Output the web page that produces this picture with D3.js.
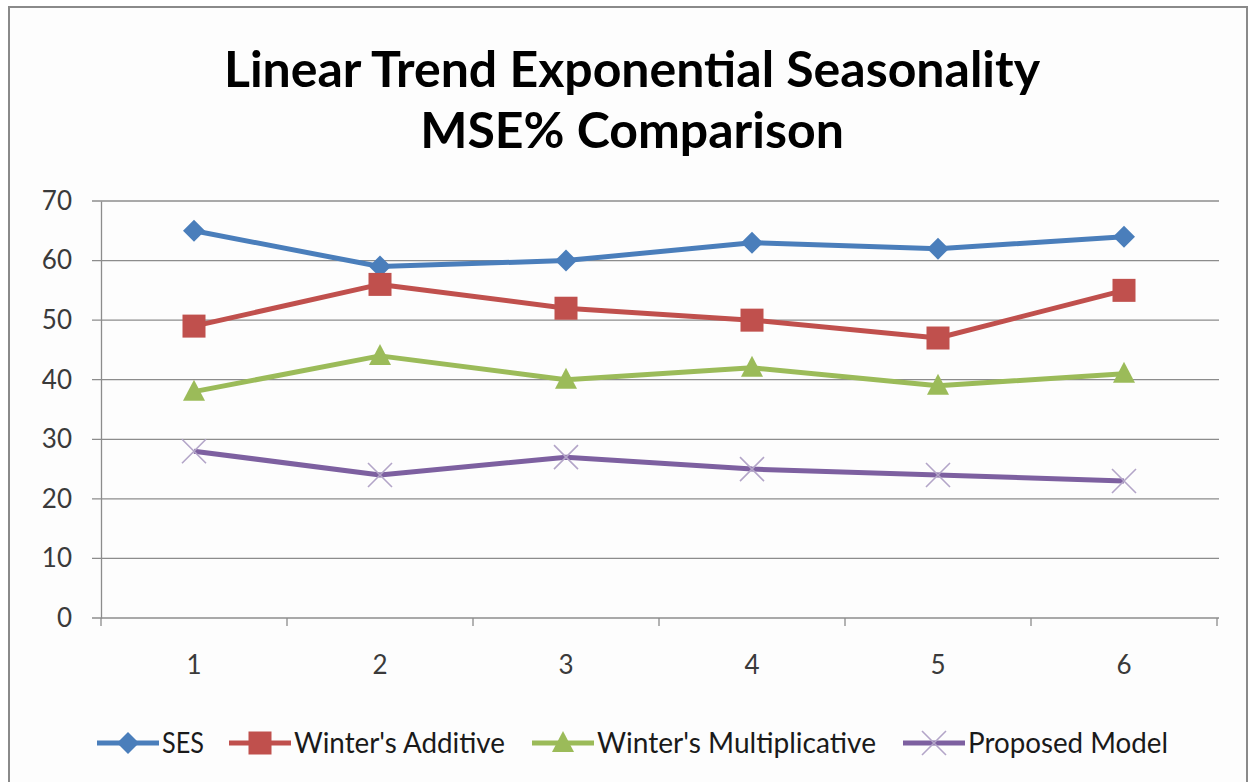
<!DOCTYPE html>
<html>
<head>
<meta charset="utf-8">
<script src="https://cdn.jsdelivr.net/npm/d3@7"></script>
<style>
  body { margin: 0; background: #fff; }
  svg { display: block; }
</style>
</head>
<body>
<div id="chart"></div>
<script>
var categories = ["1", "2", "3", "4", "5", "6"];
var yTicks = [0, 10, 20, 30, 40, 50, 60, 70];
var sesValues = [65, 59, 60, 63, 62, 64];
var additiveValues = [49, 56, 52, 50, 47, 55];
var multiplicativeValues = [38, 44, 40, 42, 39, 41];
var proposedValues = [28, 24, 27, 25, 24, 23];
var seriesNames = ["SES", "Winter's Additive", "Winter's Multiplicative", "Proposed Model"];
var titleLines = ["Linear Trend Exponential Seasonality", "MSE% Comparison"];

var width = 1251, height = 782;
var font = "Lato, 'Open Sans', sans-serif";

var svg = d3.select("#chart").append("svg")
  .attr("width", width)
  .attr("height", height);

// chart frame
svg.append("rect")
  .attr("x", 9).attr("y", 7)
  .attr("width", 1238).attr("height", 790)
  .attr("fill", "#fdfdfd")
  .attr("stroke", "#8a8a8a")
  .attr("stroke-width", 2);

// title
svg.append("g").selectAll("text")
  .data(titleLines)
  .enter().append("text")
  .attr("x", 632)
  .attr("y", function(d, i) { return 87 + i * 61; })
  .attr("text-anchor", "middle")
  .attr("font-family", font)
  .attr("font-weight", "bold")
  .attr("font-size", 50)
  .attr("fill", "#000")
  .text(function(d) { return d; });

var x = d3.scaleBand().domain(categories).range([101, 1217]);
var y = d3.scaleLinear().domain([0, 70]).range([618, 201]);

// gridlines
svg.append("g").selectAll("line")
  .data(yTicks)
  .enter().append("line")
  .attr("x1", 92).attr("x2", 1219)
  .attr("y1", function(d) { return y(d); })
  .attr("y2", function(d) { return y(d); })
  .attr("stroke", "#8c8c8c")
  .attr("stroke-width", 1.3);

// y axis
var yAxis = d3.axisLeft(y).tickValues(yTicks).tickSize(0).tickPadding(29);
var gy = svg.append("g").attr("transform", "translate(101,0)").call(yAxis);
gy.select(".domain").attr("stroke", "#8c8c8c").attr("stroke-width", 1.3);
gy.selectAll("text").attr("font-family", font).attr("font-size", 26).attr("fill", "#3a3a3a");

// x axis
var xAxis = d3.axisBottom(x).tickSize(0).tickPadding(38);
var gx = svg.append("g").attr("transform", "translate(0,618)").call(xAxis);
gx.select(".domain").remove();
gx.selectAll("text").attr("font-family", font).attr("font-size", 26).attr("fill", "#3a3a3a");
svg.append("g").selectAll("line")
  .data(d3.range(categories.length + 1))
  .enter().append("line")
  .attr("x1", function(d) { return 101 + d * x.step(); })
  .attr("x2", function(d) { return 101 + d * x.step(); })
  .attr("y1", 618).attr("y2", 626)
  .attr("stroke", "#8c8c8c").attr("stroke-width", 1.3);

var series = [
  {name: seriesNames[0], values: sesValues, color: "#4a7ebb", marker: "diamond"},
  {name: seriesNames[1], values: additiveValues, color: "#c0504d", marker: "square"},
  {name: seriesNames[2], values: multiplicativeValues, color: "#9bbb59", marker: "triangle"},
  {name: seriesNames[3], values: proposedValues, color: "#7d60a0", marker: "x"}
];

function drawMarker(g, type, color, cx, cy) {
  if (type == "diamond") {
    g.append("path").attr("d", "M" + cx + "," + (cy - 11) + "L" + (cx + 11) + "," + cy + "L" + cx + "," + (cy + 11) + "L" + (cx - 11) + "," + cy + "Z")
      .attr("fill", color);
  } else if (type == "square") {
    g.append("rect").attr("x", cx - 11.5).attr("y", cy - 11.5).attr("width", 23).attr("height", 23)
      .attr("fill", color);
  } else if (type == "triangle") {
    g.append("path").attr("d", "M" + cx + "," + (cy - 12) + "L" + (cx + 11) + "," + (cy + 9) + "L" + (cx - 11) + "," + (cy + 9) + "Z")
      .attr("fill", color);
  } else {
    g.append("path").attr("d", "M" + (cx - 12) + "," + (cy - 12) + "L" + (cx + 12) + "," + (cy + 12) + "M" + (cx + 12) + "," + (cy - 12) + "L" + (cx - 12) + "," + (cy + 12))
      .attr("stroke", "#b3a5c8").attr("stroke-width", 1.6).attr("fill", "none");
  }
}

var line = d3.line()
  .x(function(d, i) { return x(categories[i]) + x.bandwidth() / 2; })
  .y(function(d) { return y(d); });

series.forEach(function(s) {
  var g = svg.append("g");
  g.append("path")
    .attr("d", line(s.values))
    .attr("fill", "none")
    .attr("stroke", s.color)
    .attr("stroke-width", 5)
    .attr("stroke-linejoin", "round");
  s.values.forEach(function(v, i) {
    drawMarker(g, s.marker, s.color, x(categories[i]) + x.bandwidth() / 2, y(v));
  });
});

// legend
var legendX = [97, 229, 532, 903];
var legendTextWidth = [42, 211, 279, 200];
var legend = svg.append("g");
series.forEach(function(s, i) {
  var lx = legendX[i], ly = 743;
  var g = legend.append("g");
  g.append("line")
    .attr("x1", lx).attr("x2", lx + 62)
    .attr("y1", ly).attr("y2", ly)
    .attr("stroke", s.color).attr("stroke-width", 5);
  drawMarker(g, s.marker, s.color, lx + 31, ly);
  g.append("text")
    .attr("x", lx + 65).attr("y", ly + 10)
    .attr("font-family", font)
    .attr("font-size", 28)
    .attr("textLength", legendTextWidth[i])
    .attr("lengthAdjust", "spacingAndGlyphs")
    .attr("fill", "#1a1a1a")
    .text(s.name);
});
</script>
</body>
</html>
